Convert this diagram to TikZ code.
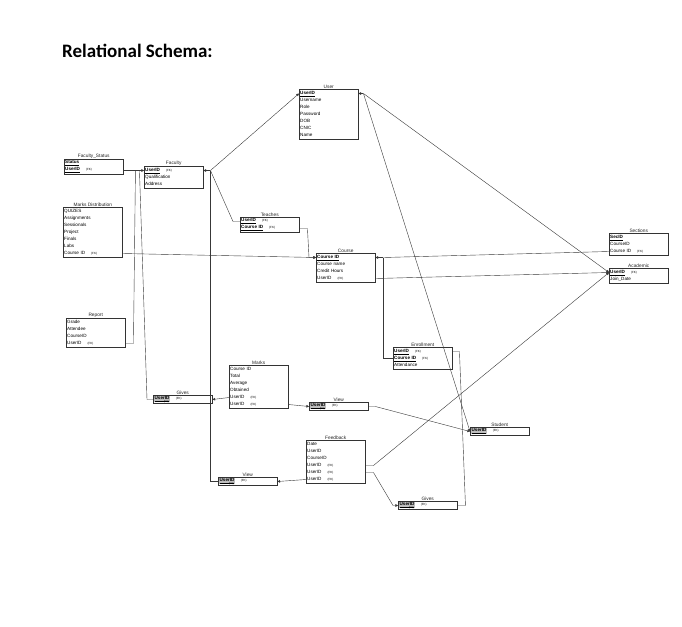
\documentclass[tikz,border=0pt]{standalone}
\usepackage{fontspec}
\setmainfont{Liberation Sans}
\newfontfamily\headfont{Carlito}
\usetikzlibrary{positioning, arrows.meta}

\newcommand{\pk}[1]{\textbf{\underline{#1}}}
\newcommand{\pkg}[1]{{\setlength{\fboxsep}{0.4pt}\colorbox{gray!50}{\textbf{\underline{#1}}}}}
\newcommand{\pkv}{\pkg{UserID}\makebox[0pt][r]{\raisebox{-2.8pt}{\fontsize{2.6}{3}\selectfont(FK)}\hspace{1pt}}}
\newcommand{\fk}{\hspace{6pt}{\fontsize{3}{3}\selectfont(FK)}}

\tikzset{
  tbl/.style={draw=black!80, line width=0.45pt, anchor=north west, text width=57pt, inner xsep=1pt, inner ysep=0.5pt, align=left, font=\fontsize{4.6}{7}\selectfont},
  ttl/.style={font=\fontsize{4.8}{5}\selectfont, inner sep=0.6pt, text=black!85},
  rel/.style={draw=black!78, line width=0.4pt},
  tip/.style={-{Triangle[length=2.6pt,width=2.6pt]}},
}

\begin{document}
\begin{tikzpicture}[x=1pt, y=-1pt]
	\fill[white] (0,0) rectangle (682,626);
	\node[font=\headfont\bfseries\fontsize{19}{22}\selectfont, anchor=base west, inner sep=0] (title) at (62,57) {Relational Schema:};

	% Tables
	\node[tbl, minimum height=15pt, label={[ttl]above:Faculty\_Status}] (fs) at (64,159) {\pk{Status}\\\pk{UserID}\fk};
	\node[tbl, minimum height=22pt, label={[ttl]above:Faculty}] (fac) at (144,166) {\pk{UserID}\fk\\Qualification\\Address};
	\node[tbl, minimum height=50pt, label={[ttl]above:Marks Distribution}] (md) at (63,207) {QUIZES\\Assignments\\Sessionals\\Project\\Finals\\Labs\\Course ID\fk};
	\node[tbl, minimum height=50pt, label={[ttl]above:User}] (usr) at (299,89) {\pk{UserID}\\Username\\Role\\Password\\DOB\\CNIC\\Name};
	\node[tbl, minimum height=15pt, label={[ttl]above:Teaches}] (tea) at (240,217) {\pk{UserID}\fk\\\pk{Course ID}\fk};
	\node[tbl, minimum height=29pt, label={[ttl]above:Course}] (crs) at (316,253) {\pk{Course ID}\\Course name\\Credit Hours\\UserID\fk};
	\node[tbl, minimum height=29pt, label={[ttl]above:Report}] (rep) at (66,318) {Grade\\Attendee\\CourseID\\UserID\fk};
	\node[tbl, minimum height=22pt, label={[ttl]above:Enrollment}] (en) at (393,347) {\pk{UserID}\fk\\\pk{Course ID}\fk\\Attendance};
	\node[tbl, minimum height=22pt, label={[ttl]above:Sections}] (sec) at (609,233) {\pk{SecID}\\CourseID\\Course ID\fk};
	\node[tbl, minimum height=15pt, label={[ttl]above:Academic}] (ac) at (609,268) {\pk{UserID}\fk\\Join\_Date};
	\node[tbl, minimum height=8pt, label={[ttl]above:Gives}] (gv1) at (153,395) {\pkv\fk};
	\node[tbl, minimum height=43pt, label={[ttl]above:Marks}] (mk) at (229,365) {Course ID\\Total\\Average\\Obtained\\UserID\fk\\UserID\fk};
	\node[tbl, minimum height=8pt, label={[ttl]above:View}] (vw1) at (309,402) {\pkv\fk};
	\node[tbl, minimum height=8pt, label={[ttl]above:Student}] (stu) at (470,427) {\pkg{UserID}\fk};
	\node[tbl, minimum height=8pt, label={[ttl]above:View}] (vw2) at (218,477) {\pkv\fk};
	\node[tbl, minimum height=43pt, label={[ttl]above:Feedback}] (fb) at (306,440) {Date\\UserID\\CourseID\\UserID\fk\\UserID\fk\\UserID\fk};
	\node[tbl, minimum height=8pt, label={[ttl]above:Gives}] (gv2) at (398,501) {\pkv\fk};

	% Junctions
	\coordinate (facJ) at ([xshift=7pt,yshift=-4.5pt]fac.north east);
	\coordinate (fsJa) at ([xshift=12pt,yshift=-11.5pt]fs.north east);
	\coordinate (fsJb) at ([xshift=16pt,yshift=-11.5pt]fs.north east);
	\coordinate (usrJ) at ([xshift=5pt,yshift=-4.5pt]usr.north east);
	\coordinate (crsJ) at ([xshift=8pt,yshift=-4.5pt]crs.north east);

	% Relationships
	\draw[rel, tip] ([yshift=-11.5pt]fs.north east) -- ([yshift=-4.5pt]fac.north west);
	\draw[rel, tip] (facJ) -- ([yshift=-4.5pt]fac.north east);
	\draw[rel, tip] (facJ) -- ([yshift=-4.5pt]usr.north west);
	\draw[rel] (facJ) -- ([xshift=-7pt,yshift=-4.5pt]tea.north west) -- ([yshift=-4.5pt]tea.north west);
	\draw[rel] (facJ) |- ([yshift=-4.5pt]vw2.north west);
	\draw[rel, tip] ([yshift=-11.5pt]tea.north east) -- ++(8,0) -- ([xshift=-7pt,yshift=-4.5pt]crs.north west) -- ([yshift=-4.5pt]crs.north west);
	\draw[rel, tip] ([yshift=-46.5pt]md.north east) -- ([yshift=-4.5pt]crs.north west);
	\draw[rel] ([yshift=-25.5pt]rep.north east) -- ++(8,0) -- (fsJa);
	\draw[rel] ([yshift=-4.5pt]gv1.north west) -- ++(-6,0) -- (fsJb);
	\draw[rel, tip] ([yshift=-32.5pt]mk.north west) -- ([yshift=-4.5pt]gv1.north east);
	\draw[rel, tip] ([yshift=-39.5pt]mk.north east) -- ([yshift=-4.5pt]vw1.north west);
	\draw[rel, tip] ([yshift=-4.5pt]vw1.north east) -- ++(7,0) -- ([yshift=-4.5pt]stu.north west);
	\draw[rel, tip] (usrJ) -- ([yshift=-4.5pt]usr.north east);
	\draw[rel, tip] (usrJ) -- ([yshift=-4.5pt]stu.north west);
	\draw[rel, tip] (usrJ) -- ([yshift=-4.5pt]ac.north west);
	\draw[rel, tip] (crsJ) -- ([yshift=-4.5pt]crs.north east);
	\draw[rel] (crsJ) -- ([yshift=-18.5pt]sec.north west);
	\draw[rel] (crsJ) |- ([yshift=-11.5pt]en.north west);
	\draw[rel, tip] ([yshift=-25.5pt]crs.north east) -- ([yshift=-4.5pt]ac.north west);
	\draw[rel, tip] ([yshift=-25.5pt]fb.north east) -- ++(8,0) -- ([yshift=-4.5pt]ac.north west);
	\draw[rel, tip] ([yshift=-32.5pt]fb.north east) -- ++(8,0) -- ([xshift=-5pt,yshift=-4.5pt]gv2.north west) -- ([yshift=-4.5pt]gv2.north west);
	\draw[rel, tip] ([yshift=-39.5pt]fb.north west) -- ([yshift=-4.5pt]vw2.north east);
	\draw[rel] ([yshift=-4.5pt]gv2.north east) -- ++(8,0) -- ([xshift=7pt,yshift=-4.5pt]en.north east) -- ([yshift=-4.5pt]en.north east);
\end{tikzpicture}
\end{document}
